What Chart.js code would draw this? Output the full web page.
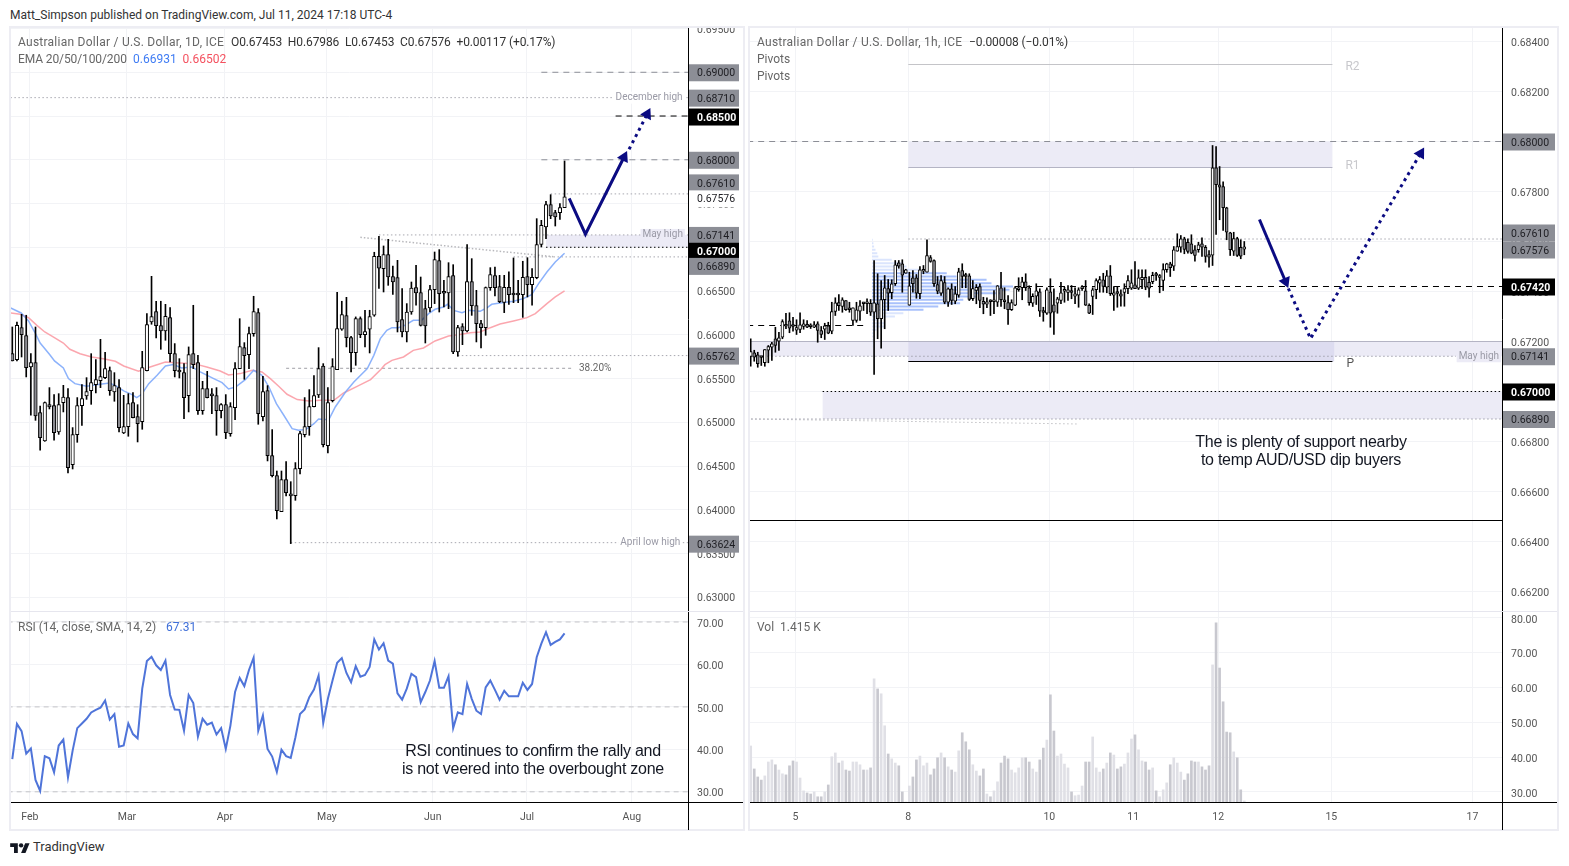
<!DOCTYPE html>
<html>
<head>
<meta charset="utf-8">
<title>AUD/USD</title>
<script src="https://cdn.jsdelivr.net/npm/chart.js@4/dist/chart.umd.min.js"></script>
<style>
html, body { margin: 0; padding: 0; background: #fff; width: 1569px; height: 866px; overflow: hidden; }
body { font-family: Roboto, sans-serif; position: relative; }
canvas { position: absolute; display: block; }
.frame { position: absolute; border: 2px solid #ededf3; box-sizing: border-box; }
.sep { position: absolute; height: 1px; background: #e6e6ee; z-index: 3; }
.txt { position: absolute; white-space: pre; font-size: 12px; color: #666; z-index: 4; line-height: 14px; }
.note { position: absolute; white-space: pre; font: 16px/18px "Liberation Sans", sans-serif; color: #131722; text-align: center; z-index: 4; letter-spacing: -0.27px; }
.dark { color: #333; letter-spacing: -0.1px; }
.wide { letter-spacing: 0.25px; }
</style>
</head>
<body>
<div class="txt" style="left:10px;top:8px;color:#333">Matt_Simpson published on TradingView.com, Jul 11, 2024 17:18 UTC-4</div>

<div class="frame" style="left:9px;top:26px;width:736px;height:805px"></div>
<div class="frame" style="left:748px;top:26px;width:811px;height:805px"></div>
<div class="sep" style="left:11px;top:611px;width:732px"></div>
<div class="sep" style="left:750px;top:611px;width:807px"></div>

<canvas id="dailyPrice" width="732" height="583" style="left:11px;top:28px"></canvas>
<canvas id="dailyRsi" width="732" height="218" style="left:11px;top:612px"></canvas>
<canvas id="hourlyPrice" width="807" height="583" style="left:750px;top:28px"></canvas>
<canvas id="hourlyVol" width="807" height="218" style="left:750px;top:612px"></canvas>

<div class="txt" style="left:18px;top:35px"><span class="wide">Australian Dollar / U.S. Dollar, 1D, ICE</span></div>
<div class="txt dark" style="left:231px;top:35px">O0.67453 &nbsp;H0.67986 &nbsp;L0.67453 &nbsp;C0.67576 &nbsp;+0.00117 (+0.17%)</div>
<div class="txt" style="left:18px;top:52px;letter-spacing:-0.1px">EMA 20/50/100/200</div>
<div class="txt" style="left:133px;top:52px"><span style="color:#3f7cf4">0.66931</span> &nbsp;<span style="color:#f4515f">0.66502</span></div>
<div class="txt" style="left:18px;top:620px">RSI (14, close, SMA, 14, 2)</div>
<div class="txt" style="left:166px;top:620px;color:#3f6fd8">67.31</div>
<div class="txt" style="left:757px;top:35px"><span class="wide">Australian Dollar / U.S. Dollar, 1h, ICE</span></div>
<div class="txt dark" style="left:969px;top:35px">−0.00008 (−0.01%)</div>
<div class="txt" style="left:757px;top:52px">Pivots</div>
<div class="txt" style="left:757px;top:69px">Pivots</div>
<div class="txt" style="left:757px;top:620px">Vol &nbsp;1.415 K</div>

<div class="note" style="left:383px;top:742px;width:300px">RSI continues to confirm the rally and
is not veered into the overbought zone</div>
<div class="note" style="left:1151px;top:433px;width:300px">The is plenty of support nearby
to temp AUD/USD dip buyers</div>

<svg style="position:absolute;left:10px;top:841px" width="20" height="12" viewBox="0 0 36 22"><path fill="#131722" d="M14 22H7V11H0V4h14v18z"/><path fill="#131722" d="M28 22h-8l7.5-18h8L28 22z"/><circle fill="#131722" cx="20" cy="8" r="4"/></svg>
<div class="txt" style="left:33px;top:840px;font-size:13px;color:#333">TradingView</div>

<script>
// all prices below are in points (0.00001)
const dailyHighs = [66089,66146,66234,66223,65784,66089,65186,65232,65396,65316,65327,65422,65384,64939,65282,65430,65510,65784,65716,65948,65800,65632,65567,65487,65308,65327,65339,65201,65811,66242,66668,66383,66383,66348,66310,65899,65727,65670,65861,66337,65765,65468,65582,65384,65396,65213,65316,65224,65682,66184,65910,66089,66440,66299,65525,65419,64916,64443,64443,64550,64321,64539,64897,65282,65373,65533,65853,65670,65396,65727,66485,66383,66428,65983,66204,66204,66280,66280,66943,67126,67015,67091,66786,66851,66527,66356,66603,66794,66660,66394,66565,66946,66973,66622,66824,66801,66108,66127,67030,66870,66508,66165,66546,66767,66775,66679,66679,66718,66878,66622,66840,66881,66756,67327,67308,67525,67601,67422,67498,67986];
const dailyLows = [65701,65701,65746,65518,65080,65022,64680,64782,65152,64794,64862,65118,64420,64466,64771,64965,65262,65205,65335,65396,65499,65308,65240,64889,64870,64840,65049,64775,64920,65586,66120,65963,65834,65937,65689,65518,65506,65041,65118,65613,65091,65091,65278,65099,64851,65049,64813,64840,65030,65613,65491,65613,65983,64977,65015,64558,64375,63895,63978,64158,63613,64108,64409,64832,64851,65175,65282,64718,64649,65232,65602,66051,65861,65575,65651,65967,65861,65792,66211,66531,66489,66565,66462,66032,65975,65918,66234,66337,66100,65906,66260,66356,66260,66318,66298,65784,65754,65887,66032,66222,65918,65849,65994,66508,66443,66367,66253,66348,66367,66367,66199,66432,66337,66640,67003,67098,67327,67243,67319,67453];
const dailyOpens = [65784,65716,66082,65990,65632,65682,65110,64786,65201,65190,64889,65224,65282,64516,64859,65190,65301,65361,65430,65476,65510,65590,65346,65396,64878,64950,65224,65064,65007,65590,66146,66264,66104,66043,66196,65784,65594,65567,65304,65784,65682,65133,65384,65316,65304,65133,65201,64870,65167,65613,65853,65773,66013,66253,65064,65361,64619,64390,63978,64344,64165,64161,64470,64859,64950,65179,65312,65643,64733,65247,65602,66063,66219,65967,65796,66184,66002,66063,66223,66897,66756,66916,66664,66653,66173,66032,66260,66539,66481,66298,66306,66516,66847,66481,66478,66676,65803,66093,66043,66607,66333,66127,66081,66539,66676,66550,66371,66542,66459,66459,66459,66664,66573,66653,67034,67232,67487,67396,67396,67453];
const dailyCloses = [65701,66108,66002,65624,65682,65072,64824,65224,65175,64881,65201,65289,64481,64859,65190,65270,65350,65453,65487,65521,65613,65361,65419,64939,64950,65213,65053,64984,65624,66116,66207,66104,66043,66211,65784,65590,65575,65282,65773,65659,65133,65384,65282,65301,65133,65201,64881,65179,65613,65864,65762,66013,66264,65099,65350,64619,64390,63990,64344,64196,64158,64470,64870,64950,65179,65304,65613,64744,65224,65636,66070,66230,65967,65796,66184,66002,66036,66207,66897,66760,66916,66660,66603,66146,66032,66260,66535,66478,66108,66100,66516,66859,66470,66474,66664,65803,66081,66043,66607,66333,66127,66081,66539,66687,66539,66378,66542,66459,66455,66455,66657,66573,66657,67030,67251,67487,67358,67346,67453,67576];

// moving averages, read at [candle index, price]
const ema20 = [[-0.5,66310],[1.9,66249],[3.5,66158],[5,66013],[6,65906],[8,65777],[9.1,65701],[11,65621],[12.1,65499],[13.5,65441],[16,65411],[18.9,65434],[21,65449],[22.5,65411],[24,65358],[25.8,65316],[26.8,65281],[27.9,65320],[29.4,65441],[31.2,65537],[33,65643],[34.7,65659],[36.5,65621],[38.7,65632],[40.5,65575],[43.4,65499],[45.2,65453],[46.6,65381],[48.1,65403],[50.2,65487],[52,65594],[53.8,65537],[55.3,65403],[56.9,65213],[58.5,65080],[60.3,64927],[61.7,64908],[63.2,64916],[65,64984],[66,65038],[68.2,65030],[69.6,65175],[71.8,65346],[73.6,65461],[76.5,65613],[77.9,65765],[79.3,65956],[80.7,66051],[81.8,66081],[83.2,66081],[84.6,66108],[86.4,66165],[88.2,66165],[89.7,66241],[91.1,66291],[92.9,66318],[93.8,66348],[95.1,66279],[96.9,66253],[98.3,66279],[100.8,66268],[102.2,66306],[103.3,66348],[105.1,66363],[108,66382],[110.1,66413],[111.9,66459],[113.4,66584],[115.2,66718],[117,66832],[119,66931]];
const ema200 = [[-0.5,66249],[1.7,66234],[3.5,66196],[5.3,66108],[7,66032],[8.8,65975],[11,65906],[12.4,65834],[14.6,65784],[17.1,65746],[19.6,65727],[22.2,65697],[24,65643],[27.2,65583],[29.7,65632],[33,65689],[35.1,65681],[39.1,65670],[41.9,65632],[44.8,65586],[46.6,65541],[49.1,65556],[51.7,65594],[53.8,65575],[55.6,65499],[57.4,65411],[59.2,65320],[61.4,65259],[63.9,65243],[66.4,65251],[69.3,65251],[71.4,65335],[74.3,65411],[77.2,65487],[79.4,65602],[80.3,65658],[81.8,65708],[84.3,65746],[86.4,65822],[88.6,65849],[91.1,65929],[94,65986],[96.1,66001],[98.7,66024],[100.8,66032],[103,66081],[105.1,66123],[108,66158],[110.9,66196],[112.7,66241],[115.2,66356],[117,66432],[119,66502]];

const rsiValues = [37.7,46,44.3,39,40.2,32.8,30.2,38.4,37.9,34.6,40.9,42.3,33.4,39.7,45,46.1,47.2,48.7,49.3,49.8,51.5,47,48.3,40.6,40.9,46.1,43.6,42.6,54.3,60.8,61.8,59.8,58.7,60.9,52.8,49.4,49.3,44.4,52.8,50.9,43,47.2,45.8,46.3,43.5,45,40.1,45.6,53.5,56.8,54.9,58.7,61.6,44.4,48,40.1,38.3,34.7,39.9,38.4,38,42.8,48.3,49.4,52.3,54.1,57.4,46.2,51.9,56.2,60.4,61.5,58,55.8,59.6,57.1,57.5,59.4,65.9,63.5,65,60.9,60.2,53.2,51.7,54.3,57.8,57,51.1,53.5,56.2,60.8,54.5,54.5,57.2,45,48.7,48.3,55.4,51.9,49.1,48.3,54.6,56.2,54,51.7,53.8,52.5,52.5,52.5,55.7,54,55.4,61.7,64.9,67.6,64.6,65.3,65.9,67.31];

const hourlyHighs = [67211,67165,67157,67140,67168,67184,67197,67257,67237,67287,67313,67315,67297,67287,67315,67287,67284,67271,67280,67279,67260,67273,67277,67357,67375,67388,67375,67364,67357,67335,67357,67364,67357,67371,67368,67524,67471,67444,67464,67448,67447,67524,67524,67527,67489,67477,67484,67468,67500,67504,67607,67544,67527,67460,67464,67460,67415,67431,67420,67493,67511,67473,67471,67444,67428,67431,67377,67375,67367,67404,67424,67477,67415,67384,67367,67420,67455,67457,67471,67423,67391,67431,67411,67337,67415,67451,67411,67377,67437,67417,67424,67424,67415,67415,67424,67444,67351,67415,67451,67460,67473,67484,67504,67420,67420,67407,67431,67464,67487,67520,67487,67487,67487,67460,67477,67477,67468,67511,67513,67517,67580,67631,67624,67617,67611,67627,67584,67597,67615,67584,67564,67984,67980,67900,67839,67737,67637,67637,67617,67607,67600];
const hourlyLows = [67101,67121,67097,67104,67101,67115,67124,67157,67164,67211,67251,67235,67241,67228,67235,67249,67255,67252,67255,67197,67215,67208,67231,67231,67304,67324,67317,67324,67317,67264,67277,67284,67324,67311,67304,67068,67211,67173,67251,67324,67371,67424,67493,67397,67473,67345,67397,67373,67371,67471,67477,67517,67420,67391,67384,67351,67340,67348,67351,67377,67415,67415,67364,67364,67351,67335,67311,67335,67304,67311,67340,67340,67331,67268,67324,67343,67401,67367,67404,67345,67340,67348,67300,67281,67308,67257,67228,67313,67351,67357,67364,67371,67351,67337,67404,67344,67311,67308,67371,67397,67397,67395,67384,67324,67337,67341,67341,67391,67408,67411,67408,67411,67407,67377,67431,67444,67395,67404,67477,67460,67484,67561,67557,67551,67553,67551,67521,67557,67540,67517,67497,67504,67628,67687,67644,67607,67544,67544,67540,67531,67547];
const hourlyOpens = [67140,67155,67147,67140,67115,67165,67177,67211,67201,67217,67264,67283,67263,67245,67248,67260,67269,67261,67257,67271,67244,67249,67263,67241,67320,67356,67340,67364,67335,67284,67284,67321,67353,67351,67353,67317,67351,67291,67367,67412,67395,67431,67515,67511,67473,67345,67455,67455,67391,67481,67477,67536,67524,67428,67393,67436,67357,67411,67361,67385,67484,67463,67463,67371,67404,67420,67361,67349,67364,67359,67357,67415,67367,67356,67327,67345,67407,67415,67439,67415,67353,67381,67399,67319,67313,67399,67347,67353,67364,67401,67396,67404,67381,67385,67411,67403,67345,67380,67407,67433,67447,67417,67463,67385,67395,67391,67396,67411,67413,67427,67413,67447,67457,67437,67439,67468,67456,67444,67487,67511,67501,67561,67577,67611,67597,67591,67567,67567,67591,67577,67548,67545,67895,67827,67820,67735,67635,67561,67612,67577,67569];
const hourlyCloses = [67160,67137,67111,67136,67168,67180,67191,67184,67215,67280,67261,67253,67260,67256,67267,67271,67257,67259,67267,67244,67228,67263,67233,67320,67355,67343,67367,67327,67327,67335,67327,67343,67351,67353,67317,67355,67291,67368,67415,67393,67431,67507,67501,67465,67487,67423,67431,67393,67487,67489,67544,67520,67431,67401,67444,67357,67411,67364,67391,67479,67460,67460,67368,67412,67417,67364,67349,67359,67359,67367,67423,67367,67359,67327,67356,67415,67415,67439,67415,67355,67381,67403,67321,67316,67407,67313,67317,67371,67395,67404,67407,67396,67391,67407,67413,67345,67313,67407,67444,67448,67420,67463,67391,67395,67392,67381,67412,67444,67435,67411,67455,67457,67417,67413,67465,67464,67459,67488,67511,67495,67567,67580,67611,67568,67560,67553,67544,67587,67577,67540,67537,67895,67827,67817,67735,67637,67567,67612,67544,67541,67579];

const hourlyVolume = [43.2,36.6,34.3,33.4,34.6,38.6,39.2,37.8,36.3,35.2,34.9,37.5,38.9,38.6,34,30.3,29.7,29.4,30,28.6,28.6,30,32,40.1,41.2,38.3,38.9,36.3,36,38.6,38.6,37.8,36.3,36.3,36.9,62.5,59.6,58.2,49,40.9,39.5,38.3,37.5,30,27.1,31.7,34.3,39.2,40.3,37.5,38.3,34.9,36.6,39.8,41.2,39.8,37.2,36.3,35.7,41.8,47,44.4,42.1,37.8,36,34.6,36.6,29.4,28.6,30.3,32.9,38.3,40.3,39.5,36.3,35.5,36.9,39.8,39.8,38.6,36.6,35.7,39.2,42.6,44.9,57.9,47.5,40.3,40.9,38,36.9,30,28.9,29.1,31.7,38.6,38.6,45.8,36.9,35.7,36.6,38.3,41.2,40.6,36.6,37.2,38,41.2,45.2,46.4,42.1,38.9,38.6,36.3,36.9,30.3,28.6,30.6,32.6,37.8,39.8,38.3,35.7,33.4,35.2,38.9,38.6,38.6,37.2,36.3,37.5,66.5,78.6,65.6,55.9,47.2,47,41.5,39.8,30.6,27.4];

// volume profile on the hourly pane: row price, row length in bars
const profilePrices = [67607,67593,67580,67567,67553,67540,67527,67513,67500,67487,67473,67460,67447,67433,67420,67407,67393,67380,67367,67353,67340,67327,67313,67300,67287,67273,67260,67247,67233,67220,67207,67193,67180];
const profileLengths = [0.2,0.4,0.6,1,1.5,1.8,5.6,8.9,9.8,13.6,21.2,24,32.5,33.9,40,39,36.3,29.7,25.9,25,18.8,14.6,8.9,6.5,1.8,3.7,3.7,1.3,0.4,0.4,0.2,0.2,0.2];
const profileStart = 34.4;

const dailyTickIdx = [3.8,24.7,45.8,67.8,90.6,110.9,133.5];
const dailyTickLabels = ['Feb','Mar','Apr','May','Jun','Jul','Aug'];
const hourlyTickIdx = [12.7,44.7,84.7,108.5,132.6,164.7,204.7];
const hourlyTickLabels = ['5','8','10','11','12','15','17'];

const dailyPriceTicks = [69500,69000,68500,68000,67500,67000,66500,66000,65500,65000,64500,64000,63500,63000];
const hourlyPriceTicks = [68400,68200,68000,67800,67600,67400,67200,67000,66800,66600,66400,66200];
const rsiTicks = [70,60,50,40,30];
const volTicks = [80,70,60,50,40,30];

const FONT = '10.5px Roboto, sans-serif';
const NOTE = '10px Roboto, sans-serif';
const PIVOT = '12px Roboto, sans-serif';
const NAVY = '#0b0b82';
const P = v => v / 100000;

function candles(opens, highs, lows, closes, bodyWidth) {
    return [
        {
            type: 'bar', grouped: false, order: 6, barThickness: 1,
            backgroundColor: '#000',
            data: highs.map((h, i) => ({ x: i, y: [P(lows[i]), P(h)] }))
        },
        {
            type: 'bar', grouped: false, order: 5, barThickness: bodyWidth, minBarLength: 2,
            borderWidth: 1, borderColor: '#000', borderSkipped: false,
            backgroundColor: closes.map((c, i) => c >= opens[i] ? '#fff' : '#8a8a90'),
            data: opens.map((o, i) => ({ x: i, y: [P(Math.min(o, closes[i])), P(Math.max(o, closes[i]))] }))
        }
    ];
}

function seg(x0, y0, x1, y1, color, width, dash, order) {
    return {
        type: 'line', order: order === undefined ? 8 : order, borderColor: color, borderWidth: width,
        borderDash: dash || [], pointRadius: 0, tension: 0,
        data: [{ x: x0, y: P(y0) }, { x: x1, y: P(y1) }]
    };
}

function arrow(points, dash) {
    return {
        type: 'line', order: 1, borderColor: NAVY, borderWidth: 3, borderDash: dash || [], tension: 0,
        borderJoinStyle: 'miter',
        pointStyle: 'triangle', backgroundColor: NAVY, pointBorderWidth: 0, borderCapStyle: 'butt',
        pointRadius: ctx => ctx.dataIndex === points.length - 1 ? 7 : 0,
        pointRotation: ctx => {
            const { x, y } = ctx.chart.scales;
            const a = points[points.length - 2], b = points[points.length - 1];
            const dx = x.getPixelForValue(b[0]) - x.getPixelForValue(a[0]);
            const dy = y.getPixelForValue(P(b[1])) - y.getPixelForValue(P(a[1]));
            return Math.atan2(dx, -dy) * 180 / Math.PI;
        },
        data: points.map(p => ({ x: p[0], y: P(p[1]) }))
    };
}

// zones, text and axis tags for one pane, in chart coordinates
function overlay(cfg) {
    return {
        id: 'overlay',
        beforeDatasetsDraw(chart) {
            const { ctx, scales: { x, y } } = chart;
            ctx.save();
            (cfg.zones || []).forEach(z => {
                ctx.fillStyle = z.color;
                const x0 = x.getPixelForValue(z.x0), x1 = Math.min(x.getPixelForValue(z.x1), chart.chartArea.right);
                const top = y.getPixelForValue(P(z.top)), bottom = y.getPixelForValue(P(z.bottom));
                ctx.fillRect(x0, top, x1 - x0, bottom - top);
            });
            ctx.restore();
        },
        afterDatasetsDraw(chart) {
            const { ctx, scales: { x, y } } = chart;
            ctx.save();
            ctx.textBaseline = 'middle';
            (cfg.labels || []).forEach(l => {
                ctx.font = l.font || NOTE;
                ctx.textAlign = 'left';
                const px = x.getPixelForValue(l.x), py = y.getPixelForValue(P(l.y));
                const w = ctx.measureText(l.text).width;
                if (l.halo) {
                    ctx.fillStyle = l.halo;
                    ctx.fillRect(px - 2, py - 6, w + 4, 12);
                }
                ctx.fillStyle = l.color;
                ctx.fillText(l.text, px, py);
            });
            ctx.restore();
        },
        afterDraw(chart) {
            const { ctx, chartArea, scales: { y } } = chart;
            ctx.save();
            ctx.textBaseline = 'middle';
            (cfg.badges || []).forEach(b => {
                const py = y.getPixelForValue(P(b.value)) + (b.nudge || 0);
                ctx.fillStyle = b.kind === 'black' ? '#000' : b.kind === 'plain' ? '#fff' : '#8c8e96';
                ctx.fillRect(chartArea.right + 1, py - 8, cfg.badgeWidth, 17);
                ctx.fillStyle = b.kind === 'black' ? '#fff' : '#1d1d22';
                ctx.font = b.kind === 'black' ? 'bold ' + FONT : FONT;
                ctx.textAlign = 'left';
                ctx.fillText(P(b.value).toFixed(5), chartArea.right + 9, py + 1.5);
            });
            // black axis lines run past the plot area
            ctx.strokeStyle = '#000';
            ctx.lineWidth = 1;
            ctx.beginPath();
            ctx.moveTo(chartArea.right + 0.5, 0);
            ctx.lineTo(chartArea.right + 0.5, chart.height);
            if (cfg.xLabels) {
                ctx.moveTo(0, chartArea.bottom + 0.5);
                ctx.lineTo(chart.width, chartArea.bottom + 0.5);
            }
            ctx.stroke();
            ctx.restore();
        }
    };
}

const noMargins = s => { s.paddingTop = 0; s.paddingBottom = 0; s.paddingLeft = 0; s.paddingRight = 0; };

function buildChart(id, datasets, cfg) {
    return new Chart(document.getElementById(id), {
        type: 'bar',
        data: { datasets },
        plugins: [overlay(cfg)],
        options: {
            responsive: false,
            animation: false,
            events: [],
            layout: { padding: 0, autoPadding: false },
            plugins: {
                legend: { display: false },
                tooltip: { enabled: false }
            },
            scales: {
                x: {
                    type: 'linear', min: cfg.xMin, max: cfg.xMax, offset: false,
                    grid: { color: '#f2f3f6', offset: false, drawTicks: false },
                    border: { display: false },
                    afterBuildTicks: s => { s.ticks = cfg.xTicks.map(v => ({ value: v })); },
                    afterFit: s => { s.height = cfg.xLabels ? 28 : 0; noMargins(s); },
                    ticks: {
                        display: !!cfg.xLabels, autoSkip: false, maxRotation: 0, padding: 9,
                        color: '#555', font: { family: 'Roboto', size: 10.5 },
                        callback: (v, i) => cfg.xLabels ? cfg.xLabels[i] : ''
                    }
                },
                y: {
                    position: 'right', min: cfg.yMin, max: cfg.yMax,
                    grid: { color: '#f2f3f6', drawTicks: false },
                    border: { display: false },
                    afterBuildTicks: s => { s.ticks = cfg.yTicks.map(v => ({ value: v })); },
                    afterFit: s => { s.width = 55; noMargins(s); },
                    ticks: {
                        autoSkip: false, padding: 9, labelOffset: cfg.yLabelShift, color: '#555', font: { family: 'Roboto', size: 10.5 },
                        callback: v => v.toFixed(cfg.yDigits)
                    }
                }
            }
        }
    });
}

// ---- daily price pane ----
const dailyEnd = 146;
const dailyDatasets = [
    ...candles(dailyOpens, dailyHighs, dailyLows, dailyCloses, 3.5),
    { type: 'line', order: 7, borderColor: 'rgba(120,165,250,0.85)', borderWidth: 1.5, pointRadius: 0, tension: 0, data: ema20.map(p => ({ x: p[0], y: P(p[1]) })) },
    { type: 'line', order: 7, borderColor: 'rgba(250,150,160,0.85)', borderWidth: 1.5, pointRadius: 0, tension: 0, data: ema200.map(p => ({ x: p[0], y: P(p[1]) })) },
    seg(114, 69000, dailyEnd, 69000, '#8c8e96', 1, [6, 5]),
    seg(114, 68000, dailyEnd, 68000, '#8c8e96', 1, [6, 5]),
    seg(-3, 68710, dailyEnd, 68710, '#a8a8b0', 1, [1.5, 2.5]),
    seg(130, 68500, dailyEnd, 68500, '#000', 1, [6, 5]),
    seg(116, 67610, dailyEnd, 67610, '#a8a8b0', 1, [1.5, 2.5]),
    seg(79, 67141, dailyEnd, 67141, '#a8a8b0', 1, [1.5, 2.5]),
    seg(115, 67000, dailyEnd, 67000, '#000', 1, [1.5, 2.5]),
    seg(108, 66890, dailyEnd, 66890, '#a8a8b0', 1, [1.5, 2.5]),
    seg(75, 67114, 117, 66890, '#b8b8bc', 1.5, [1.5, 2]),
    seg(96, 65762, dailyEnd, 65762, '#a8a8b0', 1, [1.5, 2.5]),
    seg(59, 65617, 121, 65617, '#a0a0a6', 1, [3, 3]),
    seg(60, 63624, dailyEnd, 63624, '#a8a8b0', 1, [1.5, 2.5]),
    arrow([[120, 67560], [123.5, 67149], [131.8, 68029]]),
    arrow([[132.9, 68120], [136.8, 68520]], [3, 4])
];
buildChart('dailyPrice', dailyDatasets, {
    xMin: -0.28, xMax: 145.6, xTicks: dailyTickIdx,
    yMin: 0.62843, yMax: 0.69506, yTicks: dailyPriceTicks.map(P), yDigits: 5, yLabelShift: 1.5,
    zones: [{ x0: 115, x1: dailyEnd, top: 67141, bottom: 67000, color: '#ecebf6' }],
    labels: [
        { x: 130, y: 68710, text: 'December high', color: '#9a9aa6', halo: '#fff' },
        { x: 135.8, y: 67141, text: 'May high', color: '#9a9aa6', halo: '#ecebf6' },
        { x: 122.1, y: 65617, text: '38.20%', color: '#666' },
        { x: 131, y: 63624, text: 'April low high', color: '#9a9aa6', halo: '#fff' }
    ],
    badgeWidth: 50,
    badges: [
        { value: 69000 }, { value: 68710 }, { value: 68500, kind: 'black', nudge: 0.5 }, { value: 68000 },
        { value: 67610, nudge: -11.5 }, { value: 67576, kind: 'plain', nudge: 1.5 },
        { value: 67141 }, { value: 67000, kind: 'black', nudge: 3.5 }, { value: 66890, nudge: 9 },
        { value: 65762 }, { value: 63624, nudge: 1 }
    ]
});

// ---- RSI pane ----
buildChart('dailyRsi', [
    { type: 'line', order: 2, borderColor: '#4f74d9', borderWidth: 2, pointRadius: 0, tension: 0, data: rsiValues.map((v, i) => ({ x: i, y: v })) },
    ...[70, 50, 30].map(v => ({
        type: 'line', order: 8, borderColor: '#c4c4c8', borderWidth: 1, borderDash: [5, 4], pointRadius: 0,
        data: [{ x: -1, y: v }, { x: 146, y: v }]
    }))
], {
    xMin: -0.28, xMax: 145.6, xTicks: dailyTickIdx, xLabels: dailyTickLabels,
    yMin: 27.6, yMax: 72.35, yTicks: rsiTicks, yDigits: 2, yLabelShift: 2
});

// ---- hourly price pane ----
const hourlyEnd = 214;
const profileRows = (keep) => {
    const rows = [];
    profilePrices.forEach((p, i) => {
        if (!keep(p)) return;
        rows.push({ x: profileStart, y: P(p) }, { x: profileStart + profileLengths[i], y: P(p) }, { x: NaN, y: NaN });
    });
    return rows;
};
const hourlyDatasets = [
    ...candles(hourlyOpens, hourlyHighs, hourlyLows, hourlyCloses, 3),
    { type: 'line', order: 7, borderColor: '#a9c1fb', borderWidth: 2.2, pointRadius: 0, spanGaps: false, data: profileRows(p => p <= 67473 && p >= 67327) },
    { type: 'line', order: 7, borderColor: '#dbe5fd', borderWidth: 2.2, pointRadius: 0, spanGaps: false, data: profileRows(p => p > 67473 || p < 67327) },
    seg(44.7, 68308, 165, 68308, '#c4c4c8', 1),
    seg(-1, 68000, hourlyEnd, 68000, '#8c8e96', 1, [6, 5]),
    seg(44.7, 67896, 165, 67896, '#b4b4c4', 1.2),
    seg(44.7, 67610, hourlyEnd, 67610, '#a8a8b0', 1, [1.5, 2.5]),
    seg(34.4, 67420, hourlyEnd, 67420, '#000', 1, [6, 5]),
    seg(-1, 67264, 32.6, 67264, '#000', 1, [6, 5]),
    seg(-1, 67200, hourlyEnd, 67200, '#b4b4c4', 1.2),
    seg(-1, 67141, 200, 67141, '#a0a0ac', 1, [1.5, 2.5]),
    seg(44.7, 67120, 165, 67120, '#000', 1.2),
    seg(20.4, 67000, hourlyEnd, 67000, '#000', 1, [1.5, 2.5]),
    seg(-1, 66890, hourlyEnd, 66890, '#a0a0ac', 1, [1.5, 2.5]),
    seg(-1, 66890, 93, 66870, '#c0c0c4', 1, [1.5, 2.5]),
    seg(-1, 66484, hourlyEnd, 66484, '#000', 1.2),
    arrow([[144.3, 67688], [151.7, 67440]]),
    arrow([[152.5, 67412], [158.8, 67212], [190, 67952]], [3, 4])
];
buildChart('hourlyPrice', hourlyDatasets, {
    xMin: -0.2, xMax: 213.1, xTicks: hourlyTickIdx,
    yMin: 0.66122, yMax: 0.68454, yTicks: hourlyPriceTicks.map(P), yDigits: 5, yLabelShift: 1.5,
    zones: [
        { x0: 44.7, x1: 165, top: 68000, bottom: 67896, color: '#ecebf6' },
        { x0: -1, x1: hourlyEnd, top: 67200, bottom: 67141, color: '#ecebf6' },
        { x0: 44.7, x1: 165.5, top: 67200, bottom: 67120, color: '#dddcf0' },
        { x0: 20.4, x1: hourlyEnd, top: 67000, bottom: 66890, color: '#ecebf6' }
    ],
    labels: [
        { x: 168.7, y: 68300, text: 'R2', color: '#c8c8cc', font: PIVOT },
        { x: 168.7, y: 67904, text: 'R1', color: '#c8c8cc', font: PIVOT },
        { x: 169, y: 67112, text: 'P', color: '#555', font: PIVOT },
        { x: 200.8, y: 67141, text: 'May high', color: '#9a9aa6', halo: '#ecebf6' }
    ],
    badgeWidth: 52,
    badges: [
        { value: 68000 }, { value: 67610, nudge: -6.5 }, { value: 67576, nudge: 2 },
        { value: 67420, kind: 'black' }, { value: 67141 }, { value: 67000, kind: 'black' }, { value: 66890 }
    ]
});

// ---- hourly volume pane ----
buildChart('hourlyVol', [{
    type: 'bar', barThickness: 2, grouped: false,
    backgroundColor: hourlyCloses.map((c, i) => c >= hourlyOpens[i] ? '#e0e0e6' : '#c8c8cf'),
    data: hourlyVolume.map((v, i) => ({ x: i, y: v }))
}], {
    xMin: -0.2, xMax: 213.1, xTicks: hourlyTickIdx, xLabels: hourlyTickLabels,
    yMin: 27.1, yMax: 81.7, yTicks: volTicks, yDigits: 2, yLabelShift: 2
});
</script>
</body>
</html>
